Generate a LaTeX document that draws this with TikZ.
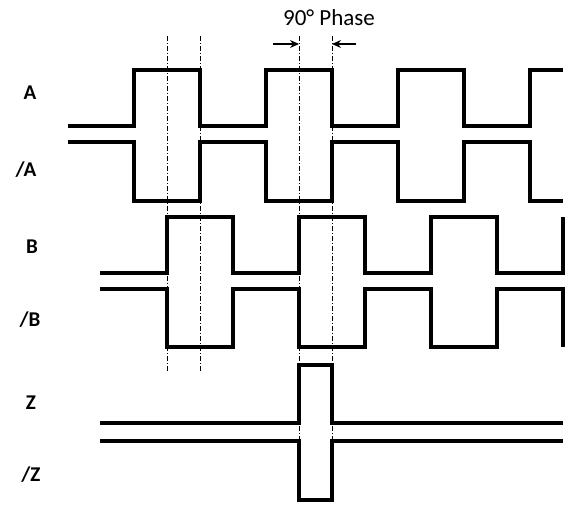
\documentclass[tikz,border=0pt]{standalone}
\usepackage{fontspec}
\setmainfont{Carlito}
\usetikzlibrary{arrows.meta}

\begin{document}
\begin{tikzpicture}[x=1pt, y=-1pt,
    wave/.style={line width=3.2pt},
    guide/.style={line width=0.7pt, dash pattern=on 5pt off 2pt on 1pt off 2pt},
    sig/.style={font=\fontsize{21}{25}\selectfont\bfseries},
    marker/.style={line width=1.1pt, -{Stealth[length=9pt,width=8pt]}}]
    \useasboundingbox (0,0) rectangle (569,504);

    % Signal names
    \node[sig] (labA) at (30,93) {A};
    \node[sig] (labnA) at (26,170) {/A};
    \node[sig] (labB) at (32,247) {B};
    \node[sig] (labnB) at (30,320) {/B};
    \node[sig] (labZ) at (31,403) {Z};
    \node[sig] (labnZ) at (31,475) {/Z};

    % Guide lines
    \draw[guide] (167,36) -- (167,372);
    \draw[guide] (200,36) -- (200,372);
    \draw[guide] (299,36) -- (299,500);
    \draw[guide] (332,36) -- (332,500);

    % 90 degree phase
    \node[font=\fontsize{23}{27}\selectfont] (phase) at (329,18) {90° Phase};
    \coordinate (l0) at (273,44);
    \coordinate (l1) at (299,44);
    \coordinate (r0) at (356,44);
    \coordinate (r1) at (332,44);
    \draw[marker] (l0) -- (l1);
    \draw[marker] (r0) -- (r1);

    % Channel A
    \draw[wave] (68,126) -- (134,126) -- (134,70) -- (200,70) -- (200,126) -- (266,126) -- (266,70)
        -- (332,70) -- (332,126) -- (398,126) -- (398,70) -- (464,70) -- (464,126) -- (530,126)
        -- (530,70) -- (563,70);
    \draw[wave] (68,142) -- (134,142) -- (134,201) -- (200,201) -- (200,142) -- (266,142) -- (266,201)
        -- (332,201) -- (332,142) -- (398,142) -- (398,201) -- (464,201) -- (464,142) -- (530,142)
        -- (530,201) -- (563,201);

    % Channel B
    \draw[wave] (100,273) -- (167,273) -- (167,217) -- (233,217) -- (233,273) -- (299,273) -- (299,217)
        -- (365,217) -- (365,273) -- (431,273) -- (431,217) -- (497,217) -- (497,273) -- (563,273)
        -- (563,217);
    \draw[wave] (100,289) -- (167,289) -- (167,347) -- (233,347) -- (233,289) -- (299,289) -- (299,347)
        -- (365,347) -- (365,289) -- (431,289) -- (431,347) -- (497,347) -- (497,289) -- (563,289)
        -- (563,347);

    % Index Z
    \draw[wave] (100,423) -- (299,423) -- (299,365) -- (332,365) -- (332,423) -- (563,423);
    \draw[wave] (100,441) -- (299,441) -- (299,500) -- (332,500) -- (332,441) -- (563,441);
\end{tikzpicture}
\end{document}
